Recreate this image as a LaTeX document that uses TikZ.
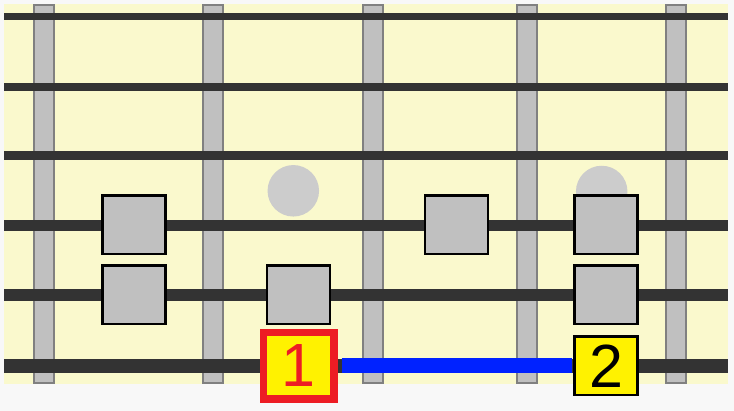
\documentclass[tikz,border=0pt]{standalone}
\usepackage{fontspec}
\setmainfont{Liberation Sans}
\definecolor{pagebg}{RGB}{248,248,248}
\definecolor{boardbg}{RGB}{250,249,205}
\definecolor{fretfill}{RGB}{192,192,192}
\definecolor{fretedge}{RGB}{128,128,128}
\definecolor{stringcol}{RGB}{51,51,51}
\definecolor{dotcol}{RGB}{204,204,204}
\definecolor{notefill}{RGB}{192,192,192}
\definecolor{markyellow}{RGB}{255,242,0}
\definecolor{markred}{RGB}{237,28,36}
\definecolor{linkblue}{RGB}{0,34,255}
\tikzset{
  fretbar/.style={draw=fretedge,fill=fretfill,line width=2pt},
  gstring/.style={draw=stringcol},
  inlay/.style={circle,fill=dotcol,minimum size=51.5pt,inner sep=0pt},
  notebox/.style={draw=black,fill=notefill,line width=2.5pt,minimum width=63pt,minimum height=58.5pt,inner sep=0pt},
  rootbox/.style={draw=markred,fill=markyellow,line width=7.5pt,minimum width=70.5pt,minimum height=66.5pt,inner sep=0pt,text=markred,font=\fontsize{61}{61}\selectfont},
  numbox/.style={draw=black,fill=markyellow,line width=2.5pt,minimum width=63pt,minimum height=58.5pt,inner sep=0pt,text=black,font=\fontsize{61}{61}\selectfont},
  link/.style={draw=linkblue,line width=15pt,shorten <=3.75pt,shorten >=1.25pt}
}
\begin{document}
\begin{tikzpicture}[x=1pt,y=-1pt]
\useasboundingbox (0,0) rectangle (734,411);
\fill[pagebg] (0,0) rectangle (734,411);
\fill[boardbg] (4,4) rectangle (728,384.5);
% frets
\foreach \fx in {44,213,373,527,676}
  \draw[fretbar] (\fx-10,5) rectangle (\fx+10,383.5);
% strings
\foreach \sy/\sw in {17/7,87/8,156/9,225.5/10.5,295.5/12,366/14.3}
  \draw[gstring,line width=\sw pt] (4,\sy) -- (728,\sy);
% inlay dots
\node[inlay] (dotA) at (293.3,190.8) {};
\node[inlay] (dotB) at (601.7,191.5) {};
% notes
\node[notebox] (n1) at (134,224.8) {};
\node[notebox] (n2) at (134,294.8) {};
\node[notebox] (n3) at (298.5,294.8) {};
\node[notebox] (n4) at (456.5,224.8) {};
\node[notebox] (n5) at (606,224.8) {};
\node[notebox] (n6) at (606,294.8) {};
\node[rootbox] (r1) at (298.9,365.8) {1};
\node[numbox] (r2) at (606,365.8) {2};
\draw[link] (r1.east) -- (r2.west);
\end{tikzpicture}
\end{document}
